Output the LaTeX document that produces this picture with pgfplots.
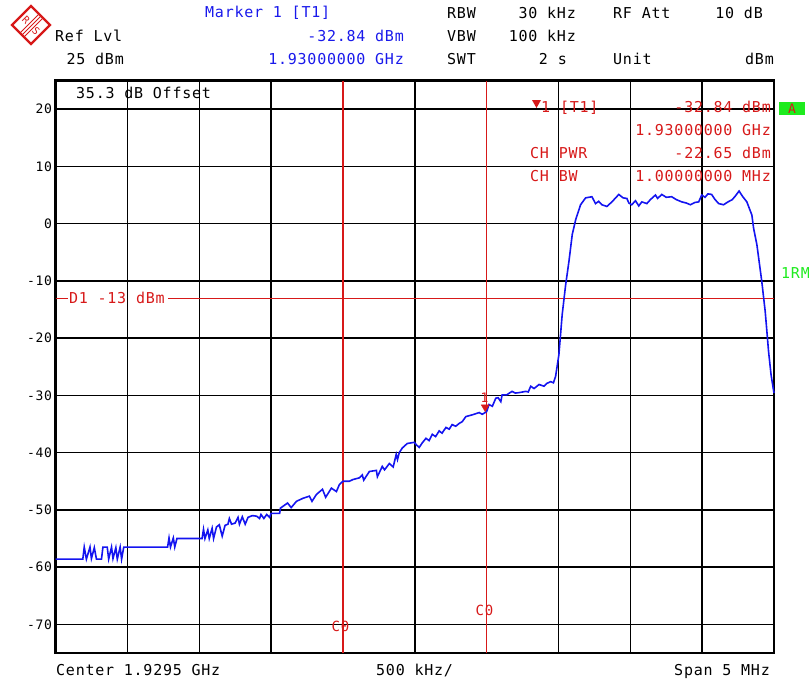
\documentclass[border=0pt]{standalone}
\usepackage{pgfplots}
\pgfplotsset{compat=1.18}
\usepackage{fontspec}
\setmainfont[LetterSpace=5]{DejaVu Sans Mono}
\definecolor{rsred}{RGB}{215,25,25}
\definecolor{rsblue}{RGB}{25,25,235}
\definecolor{trace}{RGB}{20,20,240}
\definecolor{rsgreen}{RGB}{30,235,30}
\newcommand{\hf}{\fontsize{15}{15}\selectfont}
\newcommand{\tf}{\fontsize{13}{13}\selectfont}

\pgfplotstableread{
f dbm
1927.0 -58.6
1927.19 -58.6
1927.20 -56.5
1927.215 -58.6
1927.24 -56.5
1927.25 -58.5
1927.27 -56.6
1927.285 -58.6
1927.32 -58.6
1927.33 -56.5
1927.36 -56.5
1927.37 -58.6
1927.39 -56.5
1927.40 -58.5
1927.42 -56.6
1927.43 -58.6
1927.45 -56.5
1927.46 -58.6
1927.475 -56.5
1927.78 -56.5
1927.79 -54.9
1927.80 -56.5
1927.82 -54.9
1927.83 -56.5
1927.845 -55.0
1928.02 -55.0
1928.03 -53.4
1928.04 -55.0
1928.06 -53.5
1928.07 -55.0
1928.09 -53.2
1928.10 -55.0
1928.12 -53.0
1928.14 -52.6
1928.16 -54.6
1928.18 -52.7
1928.20 -52.5
1928.21 -51.5
1928.225 -52.5
1928.25 -52.3
1928.27 -51.3
1928.28 -52.5
1928.30 -51.2
1928.32 -52.5
1928.34 -51.3
1928.37 -51.0
1928.40 -51.1
1928.42 -51.5
1928.43 -50.8
1928.45 -51.5
1928.47 -50.8
1928.49 -51.3
1928.50 -50.6
1928.56 -50.6
1928.565 -49.7
1928.615 -48.8
1928.64 -49.6
1928.677 -48.5
1928.72 -48.0
1928.767 -47.6
1928.785 -48.5
1928.816 -47.3
1928.858 -46.4
1928.88 -47.8
1928.92 -46.2
1928.955 -46.8
1928.975 -45.6
1929.0 -45.0
1929.045 -45.0
1929.07 -44.7
1929.115 -44.4
1929.135 -43.9
1929.145 -44.8
1929.184 -43.3
1929.233 -43.1
1929.24 -44.2
1929.274 -42.4
1929.29 -43.0
1929.323 -41.9
1929.35 -42.5
1929.371 -40.3
1929.38 -41.2
1929.392 -40.0
1929.413 -39.2
1929.448 -38.4
1929.497 -38.2
1929.51 -38.6
1929.531 -39.1
1929.552 -38.3
1929.578 -37.5
1929.60 -37.9
1929.622 -36.8
1929.645 -37.2
1929.67 -36.2
1929.69 -36.6
1929.717 -35.6
1929.74 -35.9
1929.76 -35.1
1929.785 -35.4
1929.809 -34.9
1929.83 -34.6
1929.856 -33.7
1929.9 -33.4
1929.948 -33.0
1929.97 -33.3
1930.0 -32.84
1930.017 -31.6
1930.04 -31.9
1930.064 -30.5
1930.08 -30.4
1930.099 -31.1
1930.108 -29.9
1930.14 -29.9
1930.177 -29.3
1930.20 -29.6
1930.23 -29.5
1930.272 -29.3
1930.29 -29.4
1930.307 -28.4
1930.33 -28.8
1930.365 -28.1
1930.40 -28.4
1930.42 -27.9
1930.446 -27.6
1930.465 -27.8
1930.48 -26.7
1930.503 -22.9
1930.526 -15.9
1930.55 -10.7
1930.573 -6.6
1930.596 -1.9
1930.62 0.7
1930.654 3.3
1930.689 4.5
1930.733 4.7
1930.758 3.5
1930.78 3.9
1930.802 3.3
1930.837 3.0
1930.872 3.8
1930.92 5.1
1930.95 4.5
1930.976 4.4
1930.99 3.6
1931.01 3.3
1931.036 4.0
1931.059 3.1
1931.08 3.8
1931.115 3.5
1931.14 4.2
1931.175 5.0
1931.19 4.4
1931.219 5.1
1931.25 4.6
1931.288 4.7
1931.32 4.2
1931.358 3.8
1931.39 3.6
1931.418 3.3
1931.45 3.7
1931.476 3.8
1931.497 5.0
1931.52 4.6
1931.54 5.2
1931.566 5.1
1931.59 4.2
1931.615 3.5
1931.649 3.3
1931.68 3.8
1931.71 4.2
1931.73 4.8
1931.757 5.7
1931.78 4.8
1931.811 3.8
1931.846 1.5
1931.858 -0.8
1931.881 -3.7
1931.915 -10.1
1931.939 -15.4
1931.962 -22.3
1931.98 -26.5
1932.0 -29.6
}\tracedata

\begin{document}
\begin{tikzpicture}
\useasboundingbox (0pt,0pt) rectangle (809pt,-681pt);
\begin{axis}[
  at={(55.5pt,-653pt)}, anchor=south west,
  scale only axis, width=718.5pt, height=572.5pt,
  xmin=1927, xmax=1932, ymin=-75, ymax=25,
  xtick={1927.5,1928,1928.5,1929,1929.5,1930,1930.5,1931,1931.5},
  xticklabels={},
  ytick={-70,-60,-50,-40,-30,-20,-10,0,10,20},
  yticklabels={-70,-60,-50,-40,-30,-20,-10,0,10,20},
  yticklabel style={font=\tf, text=black},
  major tick length=0pt,
  grid=major,
  major grid style={black, line width=1.4pt},
  axis line style={black, line width=2.7pt},
  clip=false,
]
\draw[black, line width=2.4pt] (axis cs:1929.5,-75) -- (axis cs:1929.5,25);
\draw[rsred, line width=1.7pt] (axis cs:1929,-75) -- (axis cs:1929,25);
\draw[rsred, line width=1.7pt] (axis cs:1930,-75) -- (axis cs:1930,25);
\draw[rsred, line width=1pt] (axis cs:1927,-13) -- (axis cs:1927.087,-13);
\draw[rsred, line width=1pt] (axis cs:1927.783,-13) -- (axis cs:1932,-13);
\node[anchor=west, inner sep=0pt, text=rsred, font=\hf] at (axis cs:1927.093,-13) {D1 -13 dBm};
\addplot[trace, line width=1.6pt, mark=none] table[x=f, y=dbm] {\tracedata};
\addplot[only marks, mark=triangle*, mark size=4.5pt, color=rsred,
  mark options={yshift=4.5pt, rotate=180, fill=rsred}] coordinates {(1929.99,-32.84)};
\node[anchor=base, inner sep=0pt, text=rsred, font=\tf, yshift=9pt] at (axis cs:1929.985,-32.84) {1};
\end{axis}

\begin{scope}[x=1pt, y=-1pt]
% logo
\draw[rsred, line width=2.4pt] (31,6) -- (50,25) -- (31,44) -- (12,25) -- cycle;
\draw[rsred, line width=0.9pt] (39,14) -- (20,33);
\draw[rsred, line width=0.9pt] (41,16) -- (22,35);
\draw[rsred, line width=0.9pt] (43,18) -- (24,37);
\node[text=rsred, font=\fontsize{10}{10}\selectfont, rotate=-45, inner sep=0pt] at (26,20) {R};
\node[text=rsred, font=\fontsize{10}{10}\selectfont, rotate=-45, inner sep=0pt] at (36,31) {S};

\begin{scope}[font=\hf]
\node[anchor=base west, inner sep=0pt, text=rsblue] at (205,17.5) {Marker 1 [T1]};
\node[anchor=base west, inner sep=0pt] at (55,41) {Ref Lvl};
\node[anchor=base east, inner sep=0pt] at (124,64) {25 dBm};
\node[anchor=base east, inner sep=0pt, text=rsblue] at (404,41) {-32.84 dBm};
\node[anchor=base east, inner sep=0pt, text=rsblue] at (404,64) {1.93000000 GHz};
\node[anchor=base west, inner sep=0pt] at (447,18) {RBW};
\node[anchor=base east, inner sep=0pt] at (576,18) {30 kHz};
\node[anchor=base west, inner sep=0pt] at (613,18) {RF Att};
\node[anchor=base east, inner sep=0pt] at (763,18) {10 dB};
\node[anchor=base west, inner sep=0pt] at (447,41) {VBW};
\node[anchor=base east, inner sep=0pt] at (576,41) {100 kHz};
\node[anchor=base west, inner sep=0pt] at (447,64) {SWT};
\node[anchor=base east, inner sep=0pt] at (567,64) {2 s};
\node[anchor=base west, inner sep=0pt] at (613,64) {Unit};
\node[anchor=base east, inner sep=0pt] at (774,64) {dBm};
\node[anchor=base west, inner sep=0pt] at (76,98) {35.3 dB Offset};
% marker info
\fill[rsred] (532,100) -- (541,100) -- (536.5,108) -- cycle;
\node[anchor=base west, inner sep=0pt, text=rsred] at (541,112) {1 [T1]};
\node[anchor=base east, inner sep=0pt, text=rsred] at (771,112) {-32.84 dBm};
\node[anchor=base east, inner sep=0pt, text=rsred] at (771,135) {1.93000000 GHz};
\node[anchor=base west, inner sep=0pt, text=rsred] at (530,158) {CH PWR};
\node[anchor=base east, inner sep=0pt, text=rsred] at (771,158) {-22.65 dBm};
\node[anchor=base west, inner sep=0pt, text=rsred] at (530,181) {CH BW};
\node[anchor=base east, inner sep=0pt, text=rsred] at (771,181) {1.00000000 MHz};
% A box and 1RM
\fill[rsgreen] (779,102) rectangle (805,115);
\node[text=rsred, inner sep=0pt, font=\tf] at (792,108.5) {A};
\node[anchor=base west, inner sep=0pt, text=rsgreen] at (781,278) {1RM};
% bottom
\node[anchor=base west, inner sep=0pt] at (56,675) {Center 1.9295 GHz};
\node[anchor=base west, inner sep=0pt] at (376,675) {500 kHz/};
\node[anchor=base east, inner sep=0pt] at (770,675) {Span 5 MHz};
\end{scope}
\node[anchor=base east, inner sep=0pt, text=rsred, font=\fontsize{14}{14}\selectfont] at (349.5,631.7) {C0};
\node[anchor=base east, inner sep=0pt, text=rsred, font=\fontsize{14}{14}\selectfont] at (493.5,615) {C0};
\end{scope}
\end{tikzpicture}
\end{document}
